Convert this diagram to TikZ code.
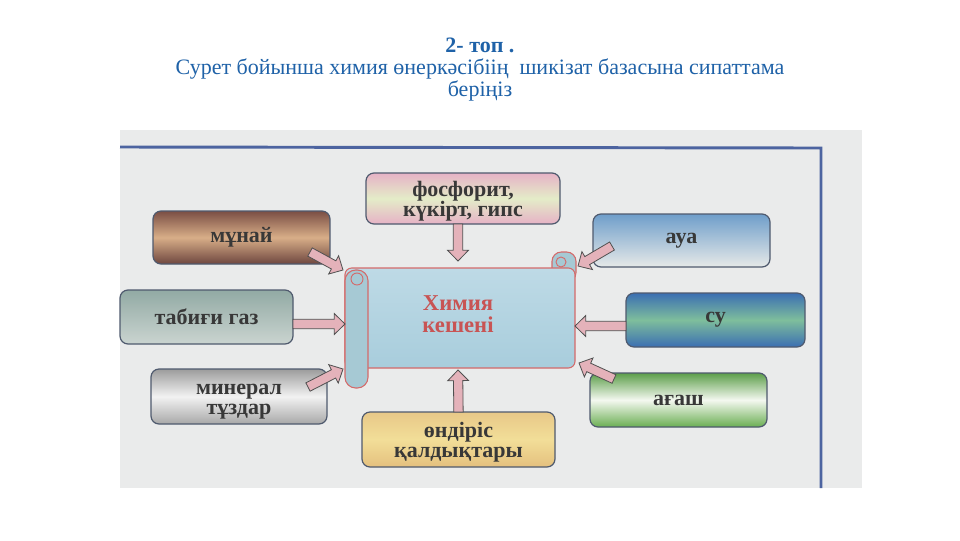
\documentclass[tikz,border=0pt]{standalone}
\usepackage{fontspec}
\setmainfont{Liberation Serif}
\usetikzlibrary{calc}
\definecolor{titleblue}{HTML}{1F62A8}
\definecolor{photobg}{HTML}{EAEBEB}
\definecolor{framecol}{HTML}{4D64A0}
\definecolor{boxline}{HTML}{4F5A6E}
\definecolor{labelcol}{HTML}{383838}
\definecolor{arrfill}{HTML}{E4B2BA}
\definecolor{arrline}{HTML}{505050}
\definecolor{scrollred}{HTML}{D46A6A}
\definecolor{kesh}{HTML}{C85454}
\definecolor{fosfA}{HTML}{E6B2C6}
\definecolor{fosfB}{HTML}{E4ECC8}
\definecolor{munA}{HTML}{7A4E44}
\definecolor{munB}{HTML}{D8AE88}
\definecolor{munC}{HTML}{6E463F}
\definecolor{auaA}{HTML}{6F9ECA}
\definecolor{auaB}{HTML}{E6E9E8}
\definecolor{gazA}{HTML}{92AAA4}
\definecolor{gazB}{HTML}{CAD4D0}
\definecolor{suA}{HTML}{3B6EB2}
\definecolor{suB}{HTML}{7EBE9C}
\definecolor{minA}{HTML}{9C9C9C}
\definecolor{minB}{HTML}{F2F2F2}
\definecolor{minC}{HTML}{A8A8A8}
\definecolor{agA}{HTML}{5C9E4A}
\definecolor{agB}{HTML}{F4F8F0}
\definecolor{agC}{HTML}{6AAE52}
\definecolor{ondA}{HTML}{E8C888}
\definecolor{ondB}{HTML}{F2DE98}
\definecolor{ondC}{HTML}{E4C07E}
\definecolor{keshA}{HTML}{BEDAE6}
\definecolor{keshB}{HTML}{A8CDDC}
\definecolor{rollfill}{HTML}{A6C9D4}
\tikzset{
  box/.style={draw=boxline, line width=0.9pt, rounded corners=6pt, inner sep=0pt, outer sep=0pt,
    font=\fontsize{16.5}{15}\selectfont\bfseries, text=labelcol, align=center},
  lbl/.style={inner sep=0pt, font=\fontsize{16.5}{15}\selectfont\bfseries, text=labelcol, align=center},
  barrow/.style={fill=arrfill, draw=arrline, line width=0.6pt, line join=miter},
}
\newcommand\blockarrow[2]{%
  \coordinate (ba) at (#1);
  \coordinate (bb) at (#2);
  \coordinate (bh) at ($(bb)!8pt!(ba)$);
  \path[barrow] ($(ba)!3.5pt!90:(bb)$) -- ($(bh)!3.5pt!90:(bb)$) -- ($(bh)!7.8pt!90:(bb)$)
     -- (bb) -- ($(bh)!7.8pt!-90:(bb)$) -- ($(bh)!3.5pt!-90:(bb)$) -- ($(ba)!3.5pt!-90:(bb)$) -- cycle;
}
\begin{document}
\begin{tikzpicture}[x=0.75pt,y=-0.75pt]
\useasboundingbox (0,0) rectangle (960,540);
\fill[white] (0,0) rectangle (960,540);
% title
\node[font=\fontsize{16.5}{16.5}\selectfont, text=titleblue, align=center, inner sep=0pt] (title) at (480,69.5)
  {\textbf{2- топ .}\\Сурет бойынша химия өнеркәсібіің\ \ шикізат базасына сипаттама\\беріңіз};
% photo background
\fill[photobg] (120,130) rectangle (862,488);
\draw[framecol, line width=2.2pt] (120,147) -- (821,148) -- (821,488);
% boxes
\node[box, minimum width=145.5pt, minimum height=38.25pt, top color=fosfA, bottom color=fosfA, middle color=fosfB] (fosf) at (463,198.5) {};
\node[lbl] (fosft) at ($(fosf.center)+(0,3)$) {фосфорит,\\күкірт, гипс};
\node[box, minimum width=132.75pt, minimum height=39.75pt, top color=munA, bottom color=munC, middle color=munB] (munai) at (241.5,237.5) {мұнай};
\node[box, minimum width=132.75pt, minimum height=39.75pt, top color=auaA, bottom color=auaB] (aua) at (681.5,240.5) {ауа};
\node[box, minimum width=129.75pt, minimum height=40.5pt, top color=gazA, bottom color=gazB] (gaz) at (206.5,317) {табиғи газ};
\node[box, minimum width=134.25pt, minimum height=40.5pt, top color=suA, bottom color=suA, middle color=suB] (su) at (715.5,320) {су};
\node[box, minimum width=132pt, minimum height=41.25pt, top color=minA, bottom color=minC, middle color=minB] (miner) at (239,396.5) {};
\node[lbl] (minert) at ($(miner.center)+(0,5)$) {минерал\\тұздар};
\node[box, minimum width=132.75pt, minimum height=40.5pt, top color=agA, bottom color=agC, middle color=agB] (agash) at (678.5,400) {ағаш};
\node[box, minimum width=144.75pt, minimum height=41.25pt, top color=ondA, bottom color=ondC, middle color=ondB] (ondiris) at (458.5,439.5) {};
\node[lbl] (ondirist) at ($(ondiris.center)+(0,3)$) {өндіріс\\қалдықтары};
% scroll
\filldraw[draw=scrollred, line width=0.8pt, fill=rollfill, rounded corners=7] (552,252) rectangle (576,282);
\draw[scrollred, line width=0.7pt] (561,262) circle (5);
\node[draw=scrollred, line width=0.8pt, rounded corners=5pt, top color=keshA, bottom color=keshB, minimum width=172.5pt, minimum height=75pt, inner sep=0pt, outer sep=0pt] (kesh) at (460,318) {};
\filldraw[draw=scrollred, line width=0.8pt, fill=rollfill, rounded corners=8] (345,270) rectangle (368,388);
\draw[scrollred, line width=0.7pt] (357,279) circle (6);
\node[text=kesh, font=\fontsize{17}{16.5}\selectfont\bfseries, align=center, inner sep=0pt] (kesht) at ($(kesh.center)+(-2,-4)$) {Химия\\кешені};
% arrows
\blockarrow{$(fosf.south)+(-5,0)$}{$(kesh.north)+(-2,-7)$}
\blockarrow{$(ondiris.north)+(0,0)$}{$(kesh.south)+(-2,2)$}
\blockarrow{$(munai.south east)+(-20,-12)$}{$(kesh.north west)+(-2,2)$}
\blockarrow{$(aua.south west)+(19,-21)$}{$(kesh.north east)+(3,-2)$}
\blockarrow{$(gaz.east)+(0,7)$}{$(kesh.west)+(0,6)$}
\blockarrow{$(su.west)+(0,6)$}{$(kesh.east)+(0,8)$}
\blockarrow{$(miner.north east)+(-19,18)$}{$(kesh.south west)+(-2,1)$}
\blockarrow{$(agash.north west)+(24,6)$}{$(kesh.south east)+(4,-5)$}
\end{tikzpicture}
\end{document}
